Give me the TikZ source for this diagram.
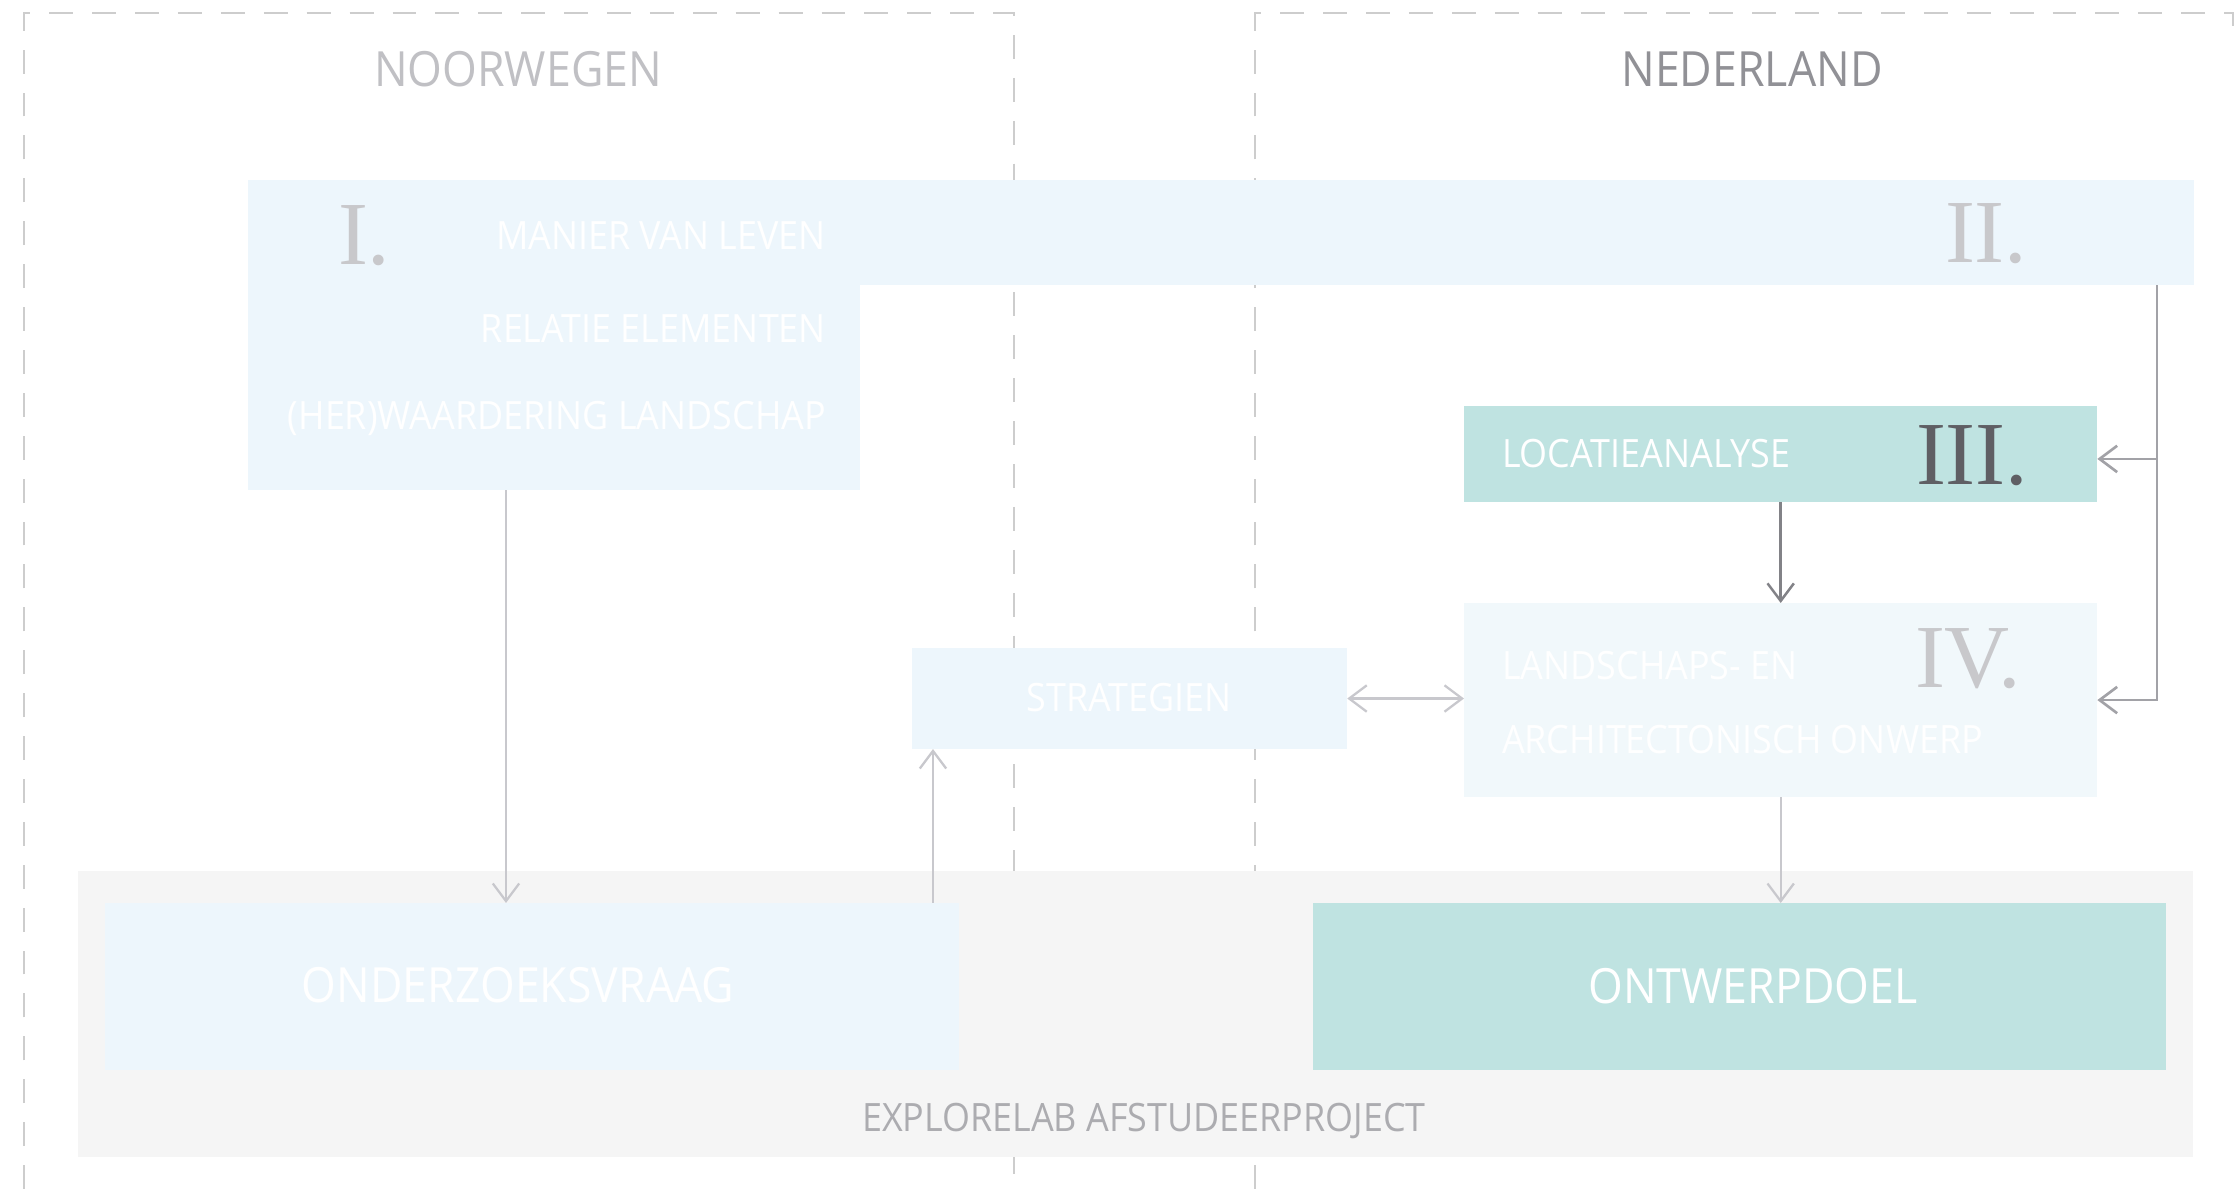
\documentclass[tikz,border=0pt]{standalone}
\usepackage{fontspec}
\setmainfont{Open Sans}[FakeStretch=0.92]
\newfontfamily\romfont{Liberation Serif}
\usetikzlibrary{arrows.meta}
\definecolor{lblue}{RGB}{237,246,252}
\definecolor{ivblue}{RGB}{241,248,251}
\definecolor{teal}{RGB}{191,227,225}
\definecolor{bandgrey}{RGB}{245,245,245}
\definecolor{dashc}{RGB}{205,205,205}
\definecolor{noorc}{RGB}{192,192,196}
\definecolor{nedc}{RGB}{145,145,150}
\definecolor{explc}{RGB}{172,172,176}
\definecolor{numlight}{RGB}{200,200,203}
\definecolor{numdark}{RGB}{95,95,100}
\definecolor{arrlight}{RGB}{200,200,205}
\definecolor{arrmid}{RGB}{162,162,167}
\definecolor{arrdark}{RGB}{130,130,135}
\begin{document}
\begin{tikzpicture}[x=0.01cm,y=-0.01cm,
  boxst/.style={rectangle, inner sep=0pt, outer sep=0pt, draw=none, anchor=north west},
  txtst/.style={inner sep=0pt, outer sep=0pt},
  txtsmall/.style={txtst, font=\fontsize{11.1}{13}\selectfont},
  txtbig/.style={txtst, font=\fontsize{13.8}{16}\selectfont},
  txtnum/.style={txtst, font=\romfont\fontsize{25.6}{30}\selectfont},
  dashline/.style={draw=dashc, line width=0.55pt, dash pattern=on 6.8pt off 5.4pt},
  arrL/.style={draw=arrlight, line width=0.65pt, -{Straight Barb[length=5pt,width=7.5pt]}},
  arrM/.style={draw=arrmid, line width=0.75pt, -{Straight Barb[length=5pt,width=7.5pt]}},
  arrD/.style={draw=arrdark, line width=0.7pt, -{Straight Barb[length=5pt,width=7.5pt]}}
]
\fill[white] (0,0) rectangle (2235,1189);
\useasboundingbox (0,0) rectangle (2235,1189);

% dashed frames
\draw[dashline] (24,1189) -- (24,13) -- (1014,13) -- (1014,1189);
\draw[dashline] (1255,1189) -- (1255,13) -- (2233,13) -- (2233,26);

% headers
\node[txtbig, text=noorc, anchor=base] (tnoor) at (518,87) {NOORWEGEN};
\node[txtbig, text=nedc, anchor=base] (tned) at (1752,87) {NEDERLAND};

% grey band
\node[boxst, fill=bandgrey, minimum width=21.14cm, minimum height=2.86cm] (band) at (78,871) {};

% boxes
\node[boxst, fill=lblue, minimum width=19.45cm, minimum height=1.05cm] (bandII) at (248,180) {};
\node[boxst, fill=lblue, minimum width=6.12cm, minimum height=3.10cm] (boxI) at (248,180) {};
\node[boxst, fill=teal, minimum width=6.33cm, minimum height=0.96cm] (loc) at (1464,406) {};
\node[boxst, fill=ivblue, minimum width=6.33cm, minimum height=1.94cm] (iv) at (1464,603) {};
\node[boxst, fill=lblue, minimum width=4.35cm, minimum height=1.01cm] (strat) at (912,648) {};
\node[boxst, fill=lblue, minimum width=8.53cm, minimum height=1.67cm] (ovraag) at (105,903) {};
\node[boxst, fill=teal, minimum width=8.52cm, minimum height=1.67cm] (odoel) at (1313,903) {};

% texts
\node[txtsmall, text=white, anchor=base east] (t1) at (826,250) {MANIER VAN LEVEN};
\node[txtsmall, text=white, anchor=base east] (t2) at (826,343) {RELATIE ELEMENTEN};
\node[txtsmall, text=white, anchor=base east] (t3) at (826,430) {(HER)WAARDERING LANDSCHAP};
\node[txtnum, text=numlight, anchor=base west] (nI) at (338,265) {I.};
\node[txtnum, text=numlight, anchor=base west] (nII) at (1945,263) {II.};
\node[txtnum, text=numdark, anchor=base west] (nIII) at (1916,485) {III.};
\node[txtnum, text=numlight, anchor=base west] (nIV) at (1915,688) {IV.};
\node[txtsmall, text=white, anchor=base west] (tloc) at (1502,468) {LOCATIEANALYSE};
\node[txtsmall, text=white, anchor=base west] (tiv1) at (1502,680) {LANDSCHAPS- EN};
\node[txtsmall, text=white, anchor=base west] (tiv2) at (1502,754) {ARCHITECTONISCH ONWERP};
\node[txtsmall, text=white, anchor=base] (tstrat) at (1129,712) {STRATEGIEN};
\node[txtbig, text=white, anchor=base] (tov) at (518,1003) {ONDERZOEKSVRAAG};
\node[txtbig, text=white, anchor=base] (tod) at (1753,1004) {ONTWERPDOEL};
\node[txtsmall, text=explc, anchor=base] (texpl) at (1144,1132) {EXPLORELAB AFSTUDEERPROJECT};

% connector helper coordinates
\coordinate (c1) at (506,0);
\coordinate (c2) at (933,0);
\coordinate (c3) at (2157,0);

% connectors
\draw[arrL] (boxI.south -| c1) -- (ovraag.north -| c1);
\draw[arrL] (ovraag.north -| c2) -- (strat.south -| c2);
\draw[arrL, {Straight Barb[length=5pt,width=7.5pt]}-{Straight Barb[length=5pt,width=7.5pt]}] (strat.east) -- (strat.east -| iv.west);
\draw[arrD] (loc.south) -- (iv.north);
\draw[arrL] (iv.south) -- (odoel.north -| iv.south);
\draw[arrM] (bandII.south -| c3) -- (c3 |- iv.east) -- (iv.east);
\draw[arrM] ([yshift=-1.4pt]c3 |- loc.east) -- ([yshift=-1.4pt]loc.east);
\end{tikzpicture}
\end{document}
